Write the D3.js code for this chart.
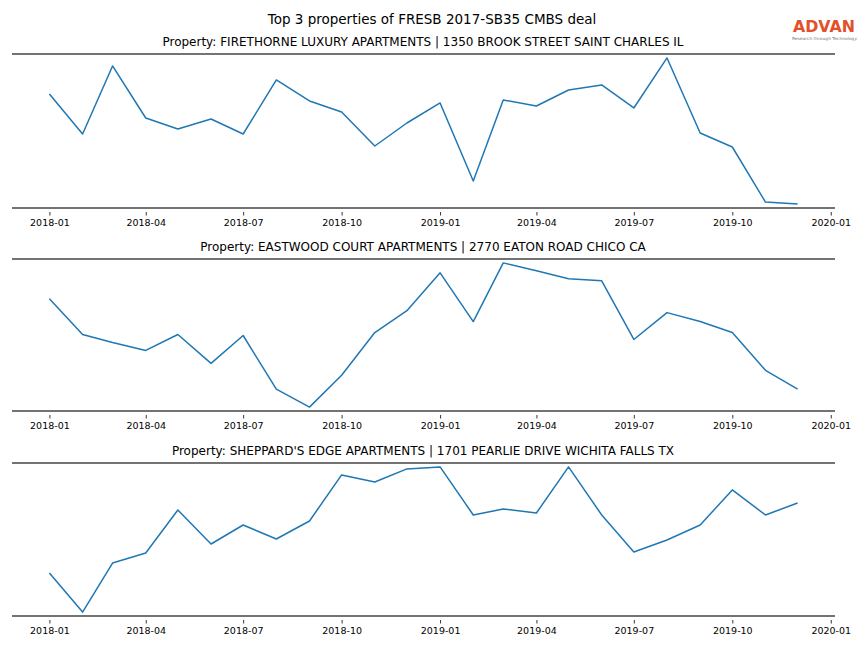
<!DOCTYPE html>
<html><head><meta charset="utf-8">
<script src="https://cdn.jsdelivr.net/npm/d3@7"></script>
<style>body{margin:0;background:#fff}svg{display:block}text{font-family:"DejaVu Sans",sans-serif}</style>
</head><body><svg id="c" width="864" height="648"></svg>
<script>
const months = ["2018-01","2018-02","2018-03","2018-04","2018-05","2018-06","2018-07","2018-08","2018-09","2018-10","2018-11","2018-12",
"2019-01","2019-02","2019-03","2019-04","2019-05","2019-06","2019-07","2019-08","2019-09","2019-10","2019-11","2019-12"];
const tickLabels = ["2018-01","2018-04","2018-07","2018-10","2019-01","2019-04","2019-07","2019-10","2020-01"];
const titles = ["Property: FIRETHORNE LUXURY APARTMENTS | 1350 BROOK STREET SAINT CHARLES IL",
"Property: EASTWOOD COURT APARTMENTS | 2770 EATON ROAD CHICO CA",
"Property: SHEPPARD'S EDGE APARTMENTS | 1701 PEARLIE DRIVE WICHITA FALLS TX"];
const series1 = [113,73,141,89,78,88,73,127,106,95,61,84,104,26,107,101,117,122,99,149,74,60,5,3];
const series2 = [112,76,68,60,76,47,75,21,3,35,78,100,138,89,148,140,132,130,71,98,89,78,40,21];
const series3 = [43,4,53,63,106,72,91,77,95,141,134,147,149,101,107,103,149,101,64,76,91,126,101,113];
const seriesAll = [series1, series2, series3];

const svg = d3.select("#c");
const parse = d3.timeParse("%Y-%m");
const dates = months.map(parse);
const left = 12, right = 835;
const panels = [{top:54,bottom:208},{top:259,bottom:411},{top:463,bottom:616}];

const d0 = dates[0], d1 = dates[dates.length-1];
const span = d1 - d0;
const x = d3.scaleTime().domain([new Date(+d0 - span*0.05), new Date(+d1 + span*0.05)]).range([left, right]);

svg.append("text").attr("x", 432).attr("y", 24).attr("text-anchor","middle")
  .attr("font-size", 13.5).attr("fill","#000").text("Top 3 properties of FRESB 2017-SB35 CMBS deal");

panels.forEach((p, i) => {
  const vals = seriesAll[i];
  const [mn, mx] = d3.extent(vals);
  const pad = (mx - mn) * 0.027;
  const y = d3.scaleLinear().domain([mn - pad, mx + pad]).range([p.bottom, p.top]);
  const g = svg.append("g");
  g.append("text").attr("x", 423).attr("y", p.top - 8).attr("text-anchor","middle")
    .attr("font-size", 12).attr("fill","#000").text(titles[i]);
  const line = d3.line().x((d, j) => x(dates[j])).y(d => y(d));
  g.append("path").datum(vals).attr("d", line).attr("fill","none")
    .attr("stroke","#1f77b4").attr("stroke-width",1.5).attr("stroke-linejoin","round");
  [p.top, p.bottom].forEach(yy => g.append("line").attr("x1", left).attr("x2", right)
    .attr("y1", yy).attr("y2", yy).attr("stroke","#444").attr("stroke-width",1.6));
  const axis = d3.axisBottom(x).tickValues(tickLabels.map(parse))
    .tickFormat(d3.timeFormat("%Y-%m")).tickSize(3.5).tickPadding(3.5);
  const ax = g.append("g").attr("transform", `translate(0,${p.bottom+4})`).call(axis);
  ax.select(".domain").remove();
  ax.selectAll("text").attr("font-size", 9.5).attr("font-family","DejaVu Sans").attr("fill","#000");
  ax.selectAll("line").attr("stroke","#000").attr("stroke-width",0.8);
});

// logo
const logo = svg.append("g");
logo.append("text").attr("x", 793).attr("y", 31.5)
  .attr("font-size", 15.5).attr("font-family","Liberation Sans, Arial").attr("font-weight","bold")
  .attr("fill","#e2502a").attr("textLength", 62).attr("lengthAdjust","spacingAndGlyphs").text("ADVAN");
logo.append("text").attr("x", 792).attr("y", 39.5)
  .attr("font-size", 4).attr("fill","#777").attr("textLength", 65).attr("lengthAdjust","spacingAndGlyphs")
  .text("Research through Technology");
</script></body></html>
